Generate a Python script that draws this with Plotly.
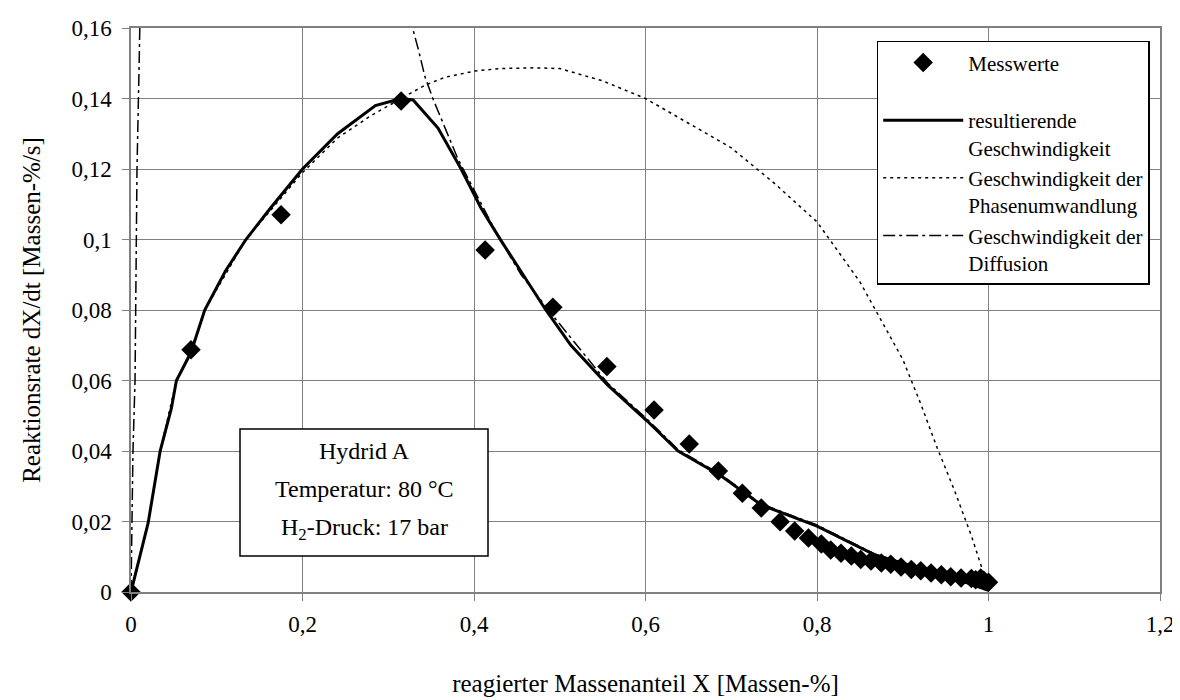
import plotly.graph_objects as go

# ---- data ----
mess_x = [0, 0.070, 0.175, 0.315, 0.413, 0.492, 0.555, 0.610, 0.651, 0.685, 0.713, 0.735,
          0.757, 0.774, 0.790, 0.805, 0.816, 0.828, 0.840, 0.851, 0.863, 0.875, 0.886,
          0.898, 0.910, 0.921, 0.933, 0.945, 0.956, 0.968, 0.980, 0.985, 0.991, 0.995, 1.0]
mess_y = [0, 0.0687, 0.107, 0.1393, 0.097, 0.0808, 0.064, 0.0516, 0.042, 0.0343, 0.028, 0.0238,
          0.0199, 0.0173, 0.0153, 0.0136, 0.0119, 0.0110, 0.0102, 0.0092, 0.0088, 0.0082, 0.0079,
          0.0071, 0.0064, 0.0060, 0.0054, 0.0049, 0.0043, 0.0040, 0.0038, 0.0035, 0.0040, 0.0032, 0.0028]

res_x = [0, 0.020, 0.034, 0.047, 0.053, 0.070, 0.086, 0.110, 0.134, 0.163, 0.200, 0.241, 0.285,
         0.315, 0.329, 0.358, 0.385, 0.408, 0.431, 0.483, 0.513, 0.556, 0.602, 0.638, 0.688,
         0.735, 0.800, 0.868, 0.930, 0.970, 1.0]
res_y = [0, 0.0196, 0.040, 0.052, 0.060, 0.068, 0.080, 0.091, 0.100, 0.109, 0.120, 0.130, 0.138,
         0.140, 0.1396, 0.1316, 0.120, 0.109, 0.0999, 0.0803, 0.070, 0.0587, 0.0485, 0.040, 0.033,
         0.0247, 0.0187, 0.0105, 0.006, 0.003, 0.0005]

phase_x = [0, 0.020, 0.034, 0.053, 0.070, 0.086, 0.134, 0.200, 0.241, 0.279, 0.315, 0.343, 0.366,
           0.401, 0.430, 0.470, 0.500, 0.550, 0.600, 0.650, 0.700, 0.750, 0.800, 0.850, 0.900,
           0.920, 0.940, 0.960, 0.980, 1.000]
phase_y = [0, 0.0196, 0.040, 0.060, 0.068, 0.080, 0.100, 0.119, 0.1288, 0.135, 0.140, 0.1438, 0.146,
           0.1478, 0.1485, 0.1487, 0.1485, 0.145, 0.140, 0.133, 0.126, 0.116, 0.105, 0.088, 0.066,
           0.054, 0.041, 0.029, 0.016, 0.001]

diff_x = [0, 0.0023, 0.0047, 0.006, 0.007, 0.0095, 0.0110, None, 0.322, 0.325, 0.335, 0.343, 0.352,
          0.366, 0.381, 0.397, 0.428, 0.455, 0.490, 0.556, 0.602, 0.638, 0.688, 0.735, 0.800,
          0.868, 0.930, 0.970, 1.0]
diff_y = [0, 0.04, 0.06, 0.10, 0.12, 0.15, 0.17, None, 0.17, 0.163, 0.154, 0.146, 0.140,
          0.1316, 0.123, 0.1155, 0.101, 0.090, 0.079, 0.0592, 0.049, 0.0404, 0.0333, 0.025, 0.019,
          0.0107, 0.006, 0.003, 0.0005]

x_ticks = [0, 0.2, 0.4, 0.6, 0.8, 1.0, 1.2]
x_tick_text = ["0", "0,2", "0,4", "0,6", "0,8", "1", "1,2"]
y_ticks = [0, 0.02, 0.04, 0.06, 0.08, 0.10, 0.12, 0.14, 0.16]
y_tick_text = ["0", "0,02", "0,04", "0,06", "0,08", "0,1", "0,12", "0,14", "0,16"]

FONT = "Liberation Serif, Times New Roman, serif"
GRID = "#808080"

fig = go.Figure()
fig.add_trace(go.Scatter(
    x=mess_x, y=mess_y, mode="markers", name="Messwerte<br>\u00a0",
    marker=dict(symbol="diamond", size=15, color="black"), cliponaxis=False))
fig.add_trace(go.Scatter(
    x=res_x, y=res_y, mode="lines", name="resultierende<br>Geschwindigkeit",
    line=dict(color="black", width=3)))
fig.add_trace(go.Scatter(
    x=phase_x, y=phase_y, mode="lines", name="Geschwindigkeit der<br>Phasenumwandlung",
    line=dict(color="black", width=1.5, dash="3px,4px")))
fig.add_trace(go.Scatter(
    x=diff_x, y=diff_y, mode="lines", name="Geschwindigkeit der<br>Diffusion",
    line=dict(color="black", width=1.5, dash="12px,4px,3px,4px"), connectgaps=False))

# info box
fig.add_shape(type="rect", xref="paper", yref="paper",
              x0=(232 - 123) / 1029, x1=(480 - 123) / 1029,
              y0=(584 - 548) / 564, y1=(584 - 421) / 564,
              line=dict(color="black", width=1.5), fillcolor="white", layer="above")
box_lines = ["Hydrid A", "Temperatur: 80 °C", "H<sub>2</sub>-Druck: 17 bar"]
box_y = [443, 481, 521]
for txt, py in zip(box_lines, box_y):
    fig.add_annotation(text=txt, xref="paper", yref="paper",
                       x=(356 - 123) / 1029, y=(584 - py) / 564,
                       xanchor="center", yanchor="middle", showarrow=False,
                       font=dict(family=FONT, size=24, color="black"))

fig.update_layout(
    width=1180, height=700,
    margin=dict(l=123, r=28, t=20, b=116),
    paper_bgcolor="white", plot_bgcolor="white",
    font=dict(family=FONT, size=23, color="black"),
    showlegend=True,
    legend=dict(x=0.99, y=0.977, xanchor="right", yanchor="top",
                bgcolor="white", bordercolor="black", borderwidth=1.5,
                font=dict(family=FONT, size=21, color="black"),
                valign="top", tracegroupgap=0, itemwidth=80),
    xaxis=dict(range=[0, 1.2], tickvals=x_ticks, ticktext=x_tick_text,
               showgrid=True, gridcolor=GRID, gridwidth=1,
               showline=True, linecolor=GRID, linewidth=1.5, mirror=True,
               ticks="outside", ticklen=7, tickcolor=GRID, zeroline=False,
               ticklabelstandoff=4,
               tickfont=dict(family=FONT, size=23),
               title=dict(text="reagierter Massenanteil X [Massen-%]", standoff=38,
                          font=dict(family=FONT, size=25)),
               automargin=False),
    yaxis=dict(range=[0, 0.16], tickvals=y_ticks, ticktext=y_tick_text,
               showgrid=True, gridcolor=GRID, gridwidth=1,
               showline=True, linecolor=GRID, linewidth=1.5, mirror=True,
               ticks="outside", ticklen=7, tickcolor=GRID, zeroline=False,
               ticklabelstandoff=6,
               tickfont=dict(family=FONT, size=23),
               title=dict(text="Reaktionsrate dX/dt [Massen-%/s]", standoff=24,
                          font=dict(family=FONT, size=25)),
               automargin=False),
)

fig.write_html("out.html")
